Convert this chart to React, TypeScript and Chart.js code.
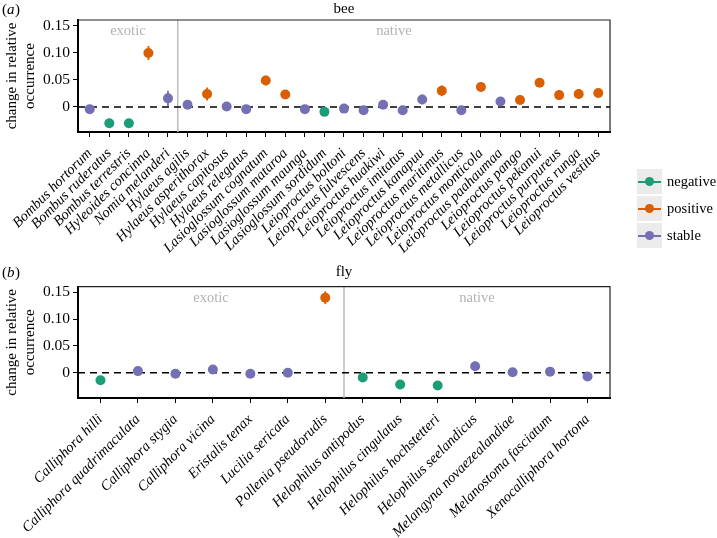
import React, { useEffect, useRef } from 'react';
import { Chart, registerables } from 'chart.js';

Chart.register(...registerables);

// ---------- data ----------
const beeSpecies = [
  'Bombus hortorum', 'Bombus ruderatus', 'Bombus terrestris', 'Hyleoides concinna', 'Nomia melanderi',
  'Hylaeus agilis', 'Hylaeus asperithorax', 'Hylaeus capitosus', 'Hylaeus relegatus',
  'Lasioglossum cognatum', 'Lasioglossum mataroa', 'Lasioglossum maunga', 'Lasioglossum sordidum',
  'Leioproctus boltoni', 'Leioproctus fulvescens', 'Leioproctus huakiwi', 'Leioproctus imitatus',
  'Leioproctus kanapuu', 'Leioproctus maritimus', 'Leioproctus metallicus', 'Leioproctus monticola',
  'Leioproctus paahaumaa', 'Leioproctus pango', 'Leioproctus pekanui', 'Leioproctus purpureus',
  'Leioproctus runga', 'Leioproctus vestitus',
];
const beeChange = [
  -0.004, -0.030, -0.030, 0.100, 0.016, 0.004, 0.024, 0.001, -0.004, 0.049, 0.023, -0.004, -0.009,
  -0.003, -0.006, 0.004, -0.006, 0.014, 0.030, -0.006, 0.037, 0.010, 0.013, 0.045, 0.022, 0.024, 0.026,
];
const beeErr = [
  0.002, 0.003, 0.006, 0.013, 0.014, 0.003, 0.012, 0.002, 0.002, 0.009, 0.003, 0.002, 0.002,
  0.002, 0.002, 0.003, 0.002, 0.009, 0.010, 0.002, 0.003, 0.003, 0.003, 0.008, 0.009, 0.009, 0.004,
];
const beeStatus = [
  'stable', 'negative', 'negative', 'positive', 'stable', 'stable', 'positive', 'stable', 'stable',
  'positive', 'positive', 'stable', 'negative', 'stable', 'stable', 'stable', 'stable', 'stable',
  'positive', 'stable', 'positive', 'stable', 'positive', 'positive', 'positive', 'positive', 'positive',
];
const beeExoticCount = 5;

const flySpecies = [
  'Calliphora hilli', 'Calliphora quadrimaculata', 'Calliphora stygia', 'Calliphora vicina',
  'Eristalis tenax', 'Lucilia sericata', 'Pollenia pseudorudis', 'Helophilus antipodus',
  'Helophilus cingulatus', 'Helophilus hochstetteri', 'Helophilus seelandicus',
  'Melangyna novaezealandiae', 'Melanostoma fasciatum', 'Xenocalliphora hortona',
];
const flyChange = [-0.014, 0.003, -0.002, 0.006, -0.002, 0.0, 0.140, -0.009, -0.022, -0.024, 0.012, 0.001, 0.002, -0.007];
const flyErr = [0.002, 0.002, 0.002, 0.002, 0.002, 0.002, 0.012, 0.002, 0.002, 0.002, 0.003, 0.002, 0.002, 0.002];
const flyStatus = [
  'negative', 'stable', 'stable', 'stable', 'stable', 'stable', 'positive', 'negative', 'negative',
  'negative', 'stable', 'stable', 'stable', 'stable',
];
const flyExoticCount = 7;

const yTickValues = [0, 0.05, 0.1, 0.15];
const yTickLabels = ['0', '0.05', '0.10', '0.15'];
const legendLabels = ['negative', 'positive', 'stable'];

const statusColors: Record<string, string> = {
  negative: '#1b9e77',
  positive: '#d95f02',
  stable: '#7570b3',
};

const FONT = '"Liberation Serif", "Times New Roman", serif';

type PanelProps = {
  species: string[];
  values: number[];
  errors: number[];
  status: string[];
  exoticCount: number;
  title: string;
  label: string;
  yMin: number;
  yMax: number;
  height: number;
  areaTop: number;
  areaBottom: number;
  titleY: number;
};

function Panel(p: PanelProps) {
  const ref = useRef<HTMLCanvasElement | null>(null);
  useEffect(() => {
    const canvas = ref.current;
    if (!canvas) return;
    const n = p.species.length;
    const overlay = {
      id: 'overlay',
      beforeDatasetsDraw(chart: any) {
        const { ctx, chartArea: a, scales } = chart;
        const x = scales.x;
        const y = scales.y;
        ctx.save();
        // separator
        const xs = x.getPixelForValue(p.exoticCount - 0.5);
        ctx.strokeStyle = '#bdbdbd';
        ctx.lineWidth = 1.5;
        ctx.beginPath();
        ctx.moveTo(xs, a.top);
        ctx.lineTo(xs, a.bottom);
        ctx.stroke();
        // zero line
        const y0 = y.getPixelForValue(0);
        ctx.strokeStyle = '#000';
        ctx.lineWidth = 1.5;
        ctx.setLineDash([7, 5]);
        ctx.beginPath();
        ctx.moveTo(a.left, y0);
        ctx.lineTo(a.right, y0);
        ctx.stroke();
        ctx.setLineDash([]);
        // error bars
        p.values.forEach((v, i) => {
          const px = x.getPixelForValue(i);
          ctx.strokeStyle = statusColors[p.status[i]];
          ctx.lineWidth = 1.8;
          ctx.beginPath();
          ctx.moveTo(px, y.getPixelForValue(v - p.errors[i]));
          ctx.lineTo(px, y.getPixelForValue(v + p.errors[i]));
          ctx.stroke();
        });
        ctx.restore();
      },
      afterDraw(chart: any) {
        const { ctx, chartArea: a, scales } = chart;
        const x = scales.x;
        ctx.save();
        // panel border top/right
        ctx.strokeStyle = '#222';
        ctx.lineWidth = 1.2;
        ctx.beginPath();
        ctx.moveTo(a.left, a.top);
        ctx.lineTo(a.right, a.top);
        ctx.lineTo(a.right, a.bottom);
        ctx.stroke();
        // title
        ctx.fillStyle = '#000';
        ctx.font = `15px ${FONT}`;
        ctx.textAlign = 'center';
        ctx.textBaseline = 'middle';
        ctx.fillText(p.title, (a.left + a.right) / 2, p.titleY);
        // panel label (x)
        ctx.textAlign = 'left';
        let cx = 2;
        ctx.font = `15px ${FONT}`;
        ctx.fillText('(', cx, p.titleY + 1);
        cx += ctx.measureText('(').width;
        ctx.font = `italic 15px ${FONT}`;
        ctx.fillText(p.label, cx, p.titleY + 1);
        cx += ctx.measureText(p.label).width + 0.5;
        ctx.font = `15px ${FONT}`;
        ctx.fillText(')', cx, p.titleY + 1);
        // exotic / native
        const xs = x.getPixelForValue(p.exoticCount - 0.5);
        ctx.fillStyle = '#b3b3b3';
        ctx.font = `14.5px ${FONT}`;
        ctx.textAlign = 'center';
        ctx.fillText('exotic', (a.left + xs) / 2, a.top + 11);
        ctx.fillText('native', (xs + a.right) / 2, a.top + 11);
        // y axis title
        ctx.fillStyle = '#000';
        ctx.font = `15px ${FONT}`;
        const cy = (a.top + a.bottom) / 2;
        ctx.translate(12, cy);
        ctx.rotate(-Math.PI / 2);
        ctx.fillText('change in relative', 0, 0);
        ctx.restore();
        ctx.save();
        ctx.fillStyle = '#000';
        ctx.font = `15px ${FONT}`;
        ctx.textAlign = 'center';
        ctx.textBaseline = 'middle';
        ctx.translate(30, cy);
        ctx.rotate(-Math.PI / 2);
        ctx.fillText('occurrence', 0, 0);
        ctx.restore();
      },
    };

    const chart = new Chart(canvas, {
      type: 'scatter',
      data: {
        datasets: [
          {
            data: p.values.map((v, i) => ({ x: i, y: v })),
            pointRadius: 5,
            pointHoverRadius: 5,
            pointBorderWidth: 0,
            pointBackgroundColor: p.status.map((s) => statusColors[s]),
            pointBorderColor: p.status.map((s) => statusColors[s]),
          },
        ],
      },
      options: {
        responsive: false,
        animation: false,
        events: [],
        layout: { padding: { top: p.areaTop, right: 717 - 610, left: 0, bottom: 0 } },
        plugins: { legend: { display: false }, tooltip: { enabled: false }, title: { display: false } },
        scales: {
          x: {
            type: 'linear',
            min: -0.6,
            max: n - 0.4,
            afterBuildTicks: (s: any) => {
              s.ticks = p.species.map((_, i) => ({ value: i }));
            },
            afterFit: (s: any) => {
              s.height = p.height - p.areaBottom;
              s.paddingLeft = 0;
              s.paddingRight = 0;
            },
            ticks: {
              autoSkip: false,
              maxRotation: 45,
              minRotation: 45,
              padding: 8,
              color: '#000',
              font: { family: FONT, size: 14.5, style: 'italic' },
              callback: (v: any) => p.species[Math.round(Number(v))] ?? '',
            },
            grid: { drawOnChartArea: false, drawTicks: true, tickLength: 5, color: '#000', tickWidth: 1 },
            border: { display: true, color: '#000', width: 2 },
          },
          y: {
            type: 'linear',
            min: p.yMin,
            max: p.yMax,
            afterBuildTicks: (s: any) => {
              s.ticks = yTickValues.map((v) => ({ value: v }));
            },
            afterFit: (s: any) => {
              s.width = 78;
            },
            ticks: {
              padding: 3,
              color: '#000',
              font: { family: FONT, size: 15.5 },
              callback: (v: any) => {
                const k = yTickValues.findIndex((t) => Math.abs(t - Number(v)) < 1e-9);
                return k >= 0 ? yTickLabels[k] : '';
              },
            },
            grid: { drawOnChartArea: false, drawTicks: true, tickLength: 5, color: '#000', tickWidth: 1 },
            border: { display: true, color: '#000', width: 2 },
          },
        },
      },
      plugins: [overlay],
    } as any);
    return () => chart.destroy();
  }, []);
  return <canvas ref={ref} width={717} height={p.height} style={{ display: 'block', width: 717, height: p.height }} />;
}

function Legend() {
  return (
    <div style={{ position: 'absolute', left: 637, top: 168, fontFamily: FONT, fontSize: 14.5 }}>
      {legendLabels.map((l) => (
        <div key={l} style={{ display: 'flex', alignItems: 'center', height: 27 }}>
          <div style={{ position: 'relative', width: 25, height: 25, background: '#ebebeb' }}>
            <div
              style={{
                position: 'absolute', left: 1, right: 1, top: 11.5, height: 2, background: statusColors[l],
              }}
            />
            <div
              style={{
                position: 'absolute', left: 8, top: 8, width: 9, height: 9, borderRadius: '50%', background: statusColors[l],
              }}
            />
          </div>
          <span style={{ marginLeft: 5, color: '#000' }}>{l}</span>
        </div>
      ))}
    </div>
  );
}

export default function App() {
  return (
    <div style={{ position: 'absolute', left: 0, top: 0, width: 717, height: 538, background: '#fff' }}>
      <div style={{ position: 'absolute', left: 0, top: 0 }}>
        <Panel
          species={beeSpecies}
          values={beeChange}
          errors={beeErr}
          status={beeStatus}
          exoticCount={beeExoticCount}
          title="bee"
          label="a"
          yMin={-0.0463}
          yMax={0.161}
          height={262}
          areaTop={20}
          areaBottom={132}
          titleY={9}
        />
      </div>
      <div style={{ position: 'absolute', left: 0, top: 262 }}>
        <Panel
          species={flySpecies}
          values={flyChange}
          errors={flyErr}
          status={flyStatus}
          exoticCount={flyExoticCount}
          title="fly"
          label="b"
          yMin={-0.0472}
          yMax={0.1605}
          height={276}
          areaTop={24.7}
          areaBottom={136}
          titleY={10}
        />
      </div>
      <Legend />
    </div>
  );
}
